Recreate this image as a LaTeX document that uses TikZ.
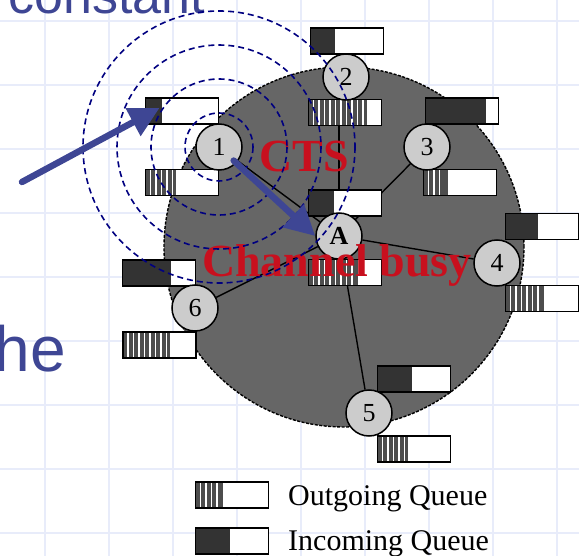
\documentclass[tikz,border=0pt]{standalone}
\usepackage{fontspec}
\setmainfont{Liberation Serif}
\newfontfamily\slidefont{Liberation Sans}
\usetikzlibrary{arrows.meta,calc}
\definecolor{gridblue}{RGB}{232,236,250}
\definecolor{slideblue}{RGB}{62,70,148}
\definecolor{wavenavy}{RGB}{0,0,128}
\definecolor{cellgray}{RGB}{102,102,102}
\definecolor{stationgray}{RGB}{204,204,204}
\definecolor{indark}{RGB}{51,51,51}
\definecolor{outdark}{RGB}{77,77,77}
\definecolor{alertred}{RGB}{200,16,30}
\pgfdeclarelayer{back}
\pgfsetlayers{back,main}
\tikzset{
  gridline/.style={draw=gridblue, line width=2pt},
  slidetext/.style={text=slideblue, inner sep=0pt, font=\slidefont\fontsize{#1}{#1}\selectfont},
  cell/.style={fill=cellgray, draw=black, line width=1.4pt, dash pattern=on 3pt off 1.5pt},
  link/.style={draw=black, line width=1.4pt},
  queuebox/.style={draw=black, fill=white, line width=1.8pt, minimum width=73pt, minimum height=26pt, inner sep=0pt, outer sep=0pt},
  boxline/.style={draw=black, line width=1.8pt},
  stripe/.style={draw=white, line width=1.5pt},
  station/.style={circle, draw=black, line width=1.5pt, fill=stationgray, minimum size=46pt, inner sep=0pt, font=\fontsize{26}{26}\selectfont},
  redlabel/.style={text=alertred, inner sep=0pt, font=\bfseries\fontsize{46}{46}\selectfont},
  wave/.style={draw=wavenavy, line width=1.6pt, dash pattern=on 6pt off 4pt},
  bluearrow/.style={draw=slideblue, fill=slideblue, line width=6.5pt, line cap=round, -{Triangle[length=30pt,width=30pt]}},
  legendtext/.style={inner sep=0pt, font=\fontsize{30}{30}\selectfont}
}
\newcommand\inqueue[4]{%
  \node[queuebox] (#1) at (#2,#3) {};
  \fill[indark] (#1.north west) rectangle ($(#1.south west)+(#4,0)$);
  \draw[boxline] (#1.north west) rectangle (#1.south east);
}
\newcommand\outqueue[4]{%
  \node[queuebox] (#1) at (#2,#3) {};
  \fill[outdark] (#1.north west) rectangle ($(#1.south west)+(#4,0)$);
  \pgfmathsetmacro\stripeend{#4-3}%
  \foreach \s in {5,10.5,...,\stripeend}{\draw[stripe] ($(#1.north west)+(\s,0)$) -- ($(#1.south west)+(\s,0)$);}
  \draw[boxline] (#1.north west) rectangle (#1.south east);
}
\begin{document}
\begin{tikzpicture}[x=1pt,y=-1pt]
\useasboundingbox (0,0) rectangle (579,556);
% queues
\inqueue{q1in}{182}{111}{16}
\outqueue{q1out}{182}{182.5}{30}
\inqueue{q2in}{347}{41}{24}
\outqueue{q2out}{345}{112.5}{58}
\inqueue{q3in}{462}{111}{60}
\outqueue{q3out}{460}{182.5}{24}
\inqueue{qAin}{345}{203}{25}
\outqueue{qAout}{345}{272.5}{49}
\inqueue{q4in}{542}{226.5}{32}
\outqueue{q4out}{542}{298.5}{38}
\inqueue{q5in}{414}{379}{34}
\outqueue{q5out}{414}{449}{30}
\inqueue{q6in}{159}{273}{48}
\outqueue{q6out}{159.5}{345}{47}
\outqueue{legout}{232}{495}{27}
\inqueue{legin}{232}{541}{34}
% stations
\node[station] (n1) at (219,147) {1};
\node[station] (n2) at (346,77) {2};
\node[station] (n3) at (427,147) {3};
\node[station, font=\bfseries\fontsize{26}{26}\selectfont] (nA) at (339,236) {A};
\node[station] (n4) at (497,263) {4};
\node[station] (n5) at (369,413) {5};
\node[station] (n6) at (195,308) {6};
% background layer
\begin{pgfonlayer}{back}
  \foreach \g in {45,109,...,557} {\draw[gridline] (\g,0) -- (\g,556);}
  \foreach \g in {21,85,...,533} {\draw[gridline] (0,\g) -- (579,\g);}
  \node[slidetext=52, anchor=base west] (txtconst) at (8,14) {constant};
  \node[slidetext=64, anchor=base east] (txthe) at (66,372) {he};
  \node[cell, circle, minimum size=360pt, inner sep=0pt] (cellarea) at (344,247) {};
  \draw[link] (nA) -- (n1);
  \draw[link] (nA.center) -- (nA.center |- n2.center);
  \draw[link] (nA) -- (n3);
  \draw[link] (nA) -- (n4);
  \draw[link] (nA) -- (n5);
  \draw[link] (nA) -- (n6);
\end{pgfonlayer}
% red labels
\node[redlabel, anchor=base] (cts) at (304,172) {CTS};
\node[redlabel, anchor=base] (busy) at (337,277) {Channel busy};
% legend
\node[legendtext, anchor=base west] (legouttxt) at (288,505) {Outgoing Queue};
\node[legendtext, anchor=base west] (legintxt) at (288,550) {Incoming Queue};
% transmission waves around station 1
\foreach \r in {34,68,102,136} {\draw[wave] (n1.center) circle[radius=\r];}
% blue arrows
\coordinate (src) at (22,182);
\draw[bluearrow] (src) -- ($(q1in.north west)+(14,10)$);
\draw[bluearrow, shorten <=20pt] (n1.center) -- (nA.west);
\end{tikzpicture}
\end{document}
